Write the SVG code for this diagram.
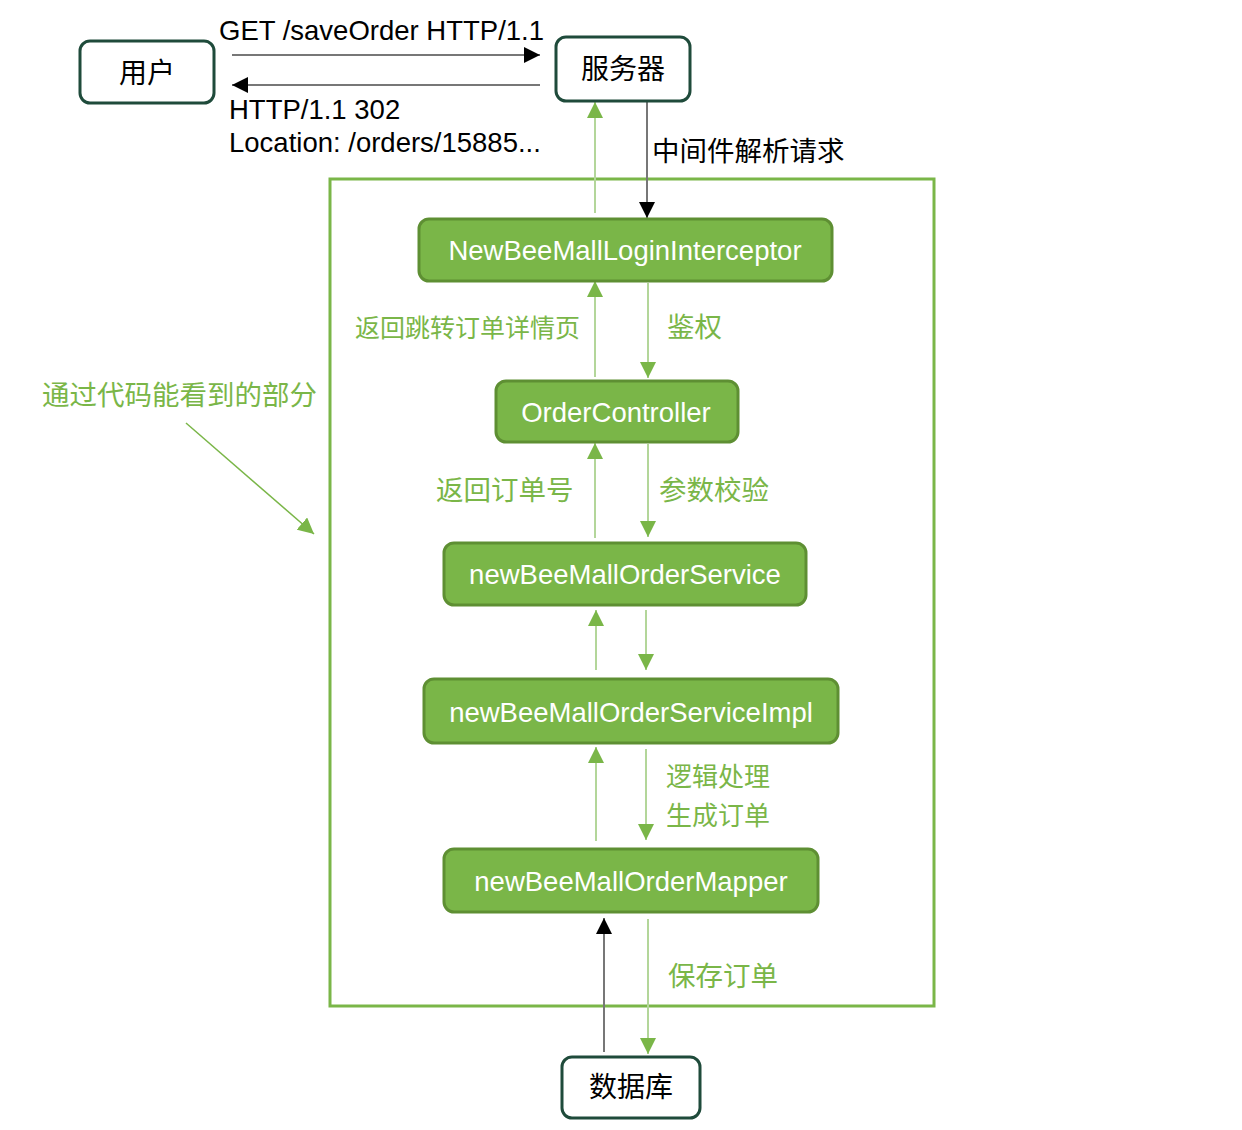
<svg xmlns="http://www.w3.org/2000/svg" width="1242" height="1130" viewBox="0 0 1242 1130">
<defs>
<style>
.box{fill:#fff;stroke:#1f4b3b;stroke-width:3}
.node{fill:#7ab648;stroke:#5e8f33;stroke-width:3}
.nt{font-family:"Liberation Sans","Noto Sans",sans-serif;font-size:27.5px;fill:#fff;text-anchor:middle}
.bt{font-family:"Noto Sans CJK SC",sans-serif;font-size:28px;fill:#000;text-anchor:middle}
.lt{font-family:"Liberation Sans","Noto Sans CJK SC",sans-serif;font-size:27.5px;fill:#000}
.gl{font-family:"Noto Sans CJK SC",sans-serif;font-size:27.5px;fill:#7ab648}
.gline{stroke:#b3d69a;stroke-width:2;fill:none}
.kline{stroke:#777;stroke-width:2;fill:none}
</style>
<marker id="ga" viewBox="0 0 16 16" refX="16" refY="8" markerWidth="16" markerHeight="16" markerUnits="userSpaceOnUse" orient="auto"><path d="M0,0 L16,8 L0,16 Z" fill="#7ab648"/></marker>
<marker id="ka" viewBox="0 0 16 16" refX="16" refY="8" markerWidth="16" markerHeight="16" markerUnits="userSpaceOnUse" orient="auto"><path d="M0,0 L16,8 L0,16 Z" fill="#000"/></marker>
</defs>
<rect width="1242" height="1130" fill="#fff"/>
<rect x="330" y="179" width="604" height="827" fill="none" stroke="#7ab648" stroke-width="3"/>
<g id="connectors">
<line class="kline" x1="232" y1="55" x2="540" y2="55" marker-end="url(#ka)"/>
<line class="kline" x1="540" y1="85" x2="232" y2="85" marker-end="url(#ka)"/>
<line class="kline" x1="647" y1="102" x2="647" y2="218" marker-end="url(#ka)"/>
<line class="gline" x1="595" y1="213" x2="595" y2="102" marker-end="url(#ga)"/>
<line class="gline" x1="648" y1="283" x2="648" y2="378" marker-end="url(#ga)"/>
<line class="gline" x1="595" y1="377" x2="595" y2="281" marker-end="url(#ga)"/>
<line class="gline" x1="648" y1="444" x2="648" y2="537" marker-end="url(#ga)"/>
<line class="gline" x1="595" y1="538" x2="595" y2="443" marker-end="url(#ga)"/>
<line class="gline" x1="646" y1="610" x2="646" y2="670" marker-end="url(#ga)"/>
<line class="gline" x1="596" y1="670" x2="596" y2="610" marker-end="url(#ga)"/>
<line class="gline" x1="646" y1="749" x2="646" y2="840" marker-end="url(#ga)"/>
<line class="gline" x1="596" y1="841" x2="596" y2="747" marker-end="url(#ga)"/>
<line class="kline" x1="604" y1="1052" x2="604" y2="918" marker-end="url(#ka)"/>
<line class="gline" x1="648" y1="919" x2="648" y2="1054" marker-end="url(#ga)"/>
<line stroke="#7ab648" stroke-width="1.5" x1="186" y1="423" x2="314" y2="534" marker-end="url(#ga)"/>
</g>
<g id="labels">
<text class="lt" x="219" y="40">GET /saveOrder HTTP/1.1</text>
<text class="lt" x="229" y="119">HTTP/1.1 302</text>
<text class="lt" x="229" y="152">Location: /orders/15885...</text>
<text class="lt" x="652" y="161" style="font-family:'Noto Sans CJK SC',sans-serif">中间件解析请求</text>
<text class="gl" x="355" y="337" style="font-size:25px">返回跳转订单详情页</text>
<text class="gl" x="667" y="337">鉴权</text>
<text class="gl" x="436" y="500">返回订单号</text>
<text class="gl" x="659" y="500">参数校验</text>
<text class="gl" x="666" y="786" style="font-size:26px">逻辑处理</text>
<text class="gl" x="666" y="825" style="font-size:26px">生成订单</text>
<text class="gl" x="668" y="986">保存订单</text>
<text class="gl" x="42" y="405">通过代码能看到的部分</text>
</g>
<g id="user"><rect class="box" x="80" y="41" width="134" height="62" rx="10"/><text class="bt" x="147" y="83">用户</text></g>
<g id="server"><rect class="box" x="556" y="37" width="134" height="64" rx="10"/><text class="bt" x="623" y="79">服务器</text></g>
<g id="interceptor"><rect class="node" x="419" y="219" width="413" height="62" rx="10"/><text class="nt" x="625" y="260">NewBeeMallLoginInterceptor</text></g>
<g id="controller"><rect class="node" x="496" y="381" width="242" height="61" rx="10"/><text class="nt" x="616" y="422">OrderController</text></g>
<g id="service"><rect class="node" x="444" y="543" width="362" height="62" rx="10"/><text class="nt" x="625" y="584">newBeeMallOrderService</text></g>
<g id="serviceimpl"><rect class="node" x="424" y="679" width="414" height="64" rx="10"/><text class="nt" x="631" y="722">newBeeMallOrderServiceImpl</text></g>
<g id="mapper"><rect class="node" x="444" y="849" width="374" height="63" rx="10"/><text class="nt" x="631" y="891">newBeeMallOrderMapper</text></g>
<g id="db"><rect class="box" x="562" y="1057" width="138" height="61" rx="10"/><text class="bt" x="631" y="1097">数据库</text></g>
</svg>
